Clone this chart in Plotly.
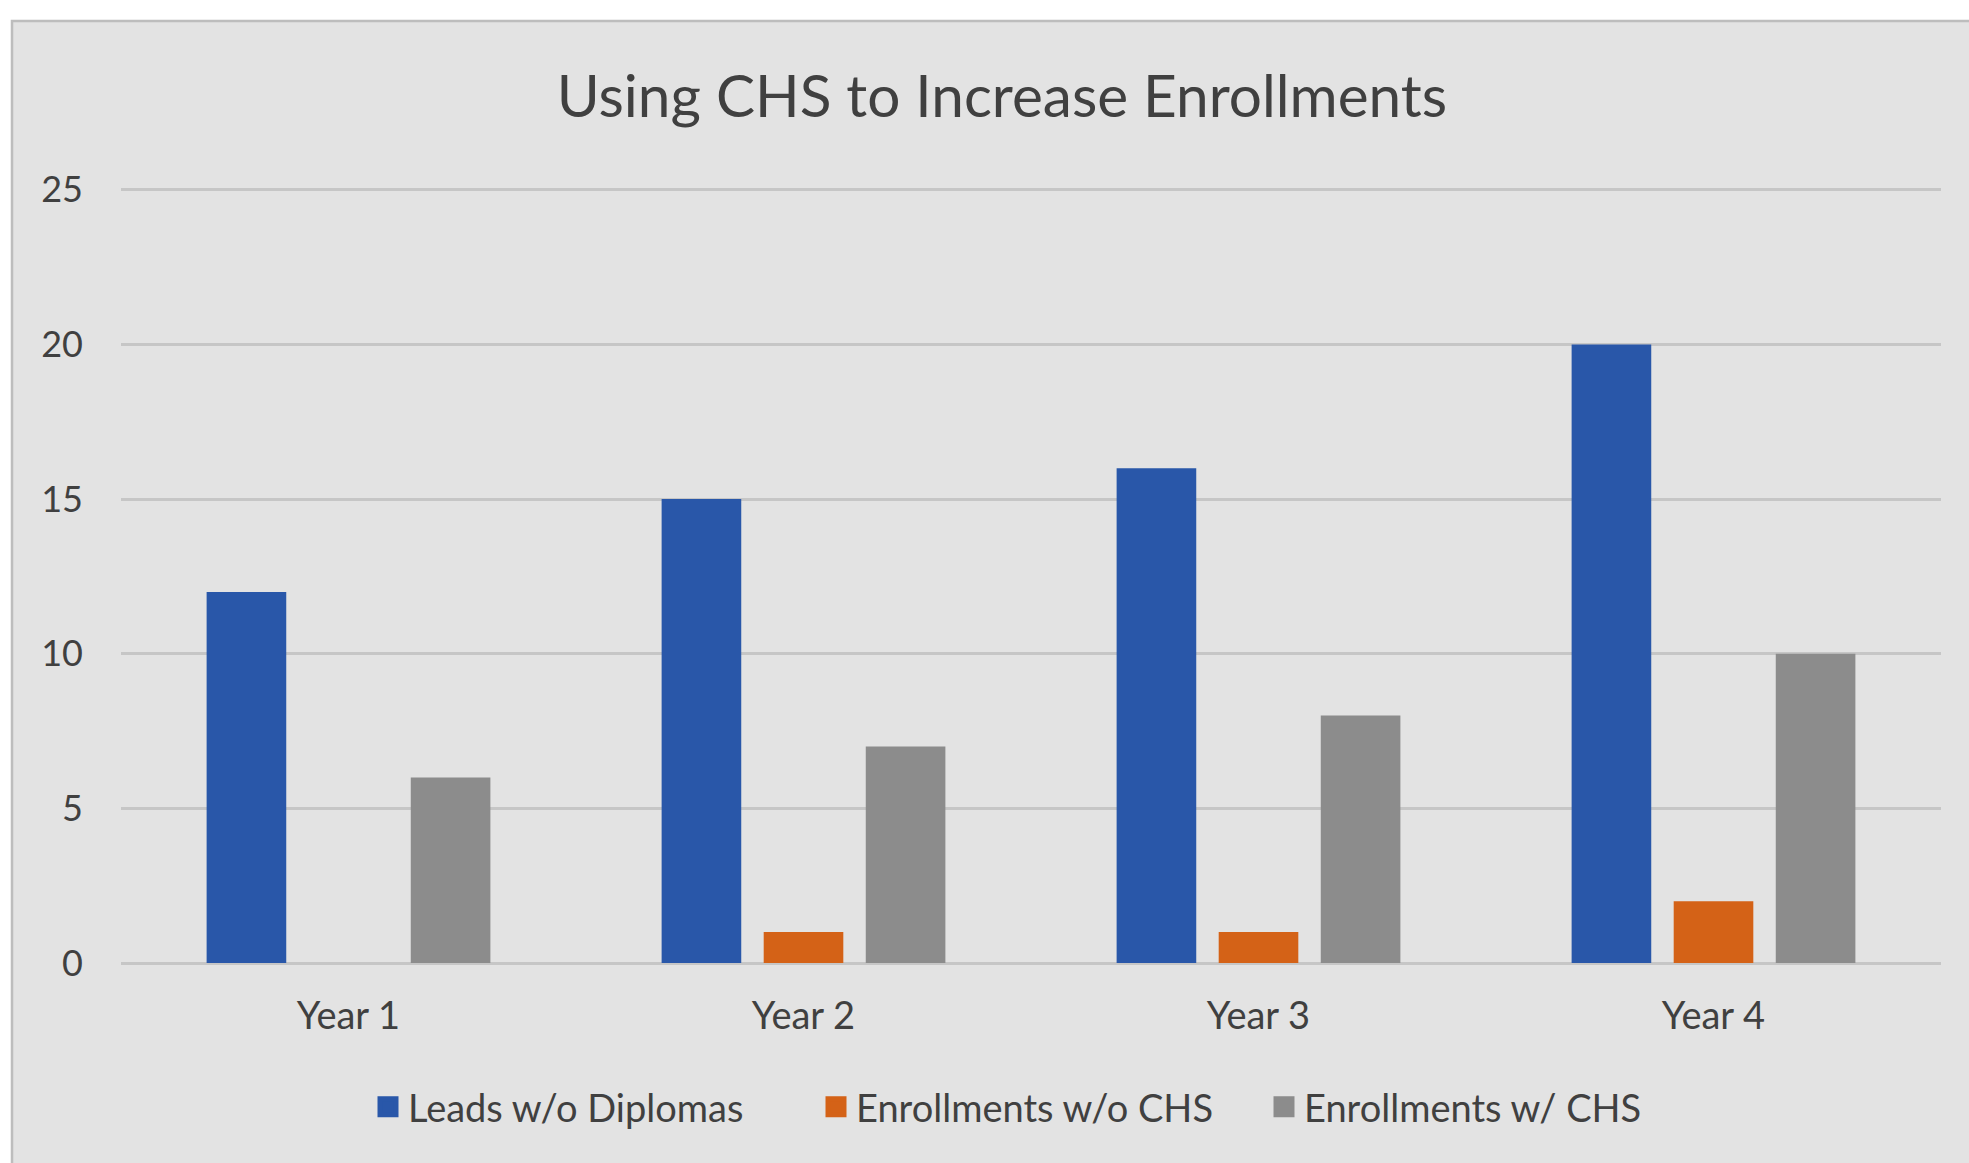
import plotly.graph_objects as go

categories = ["Year 1", "Year 2", "Year 3", "Year 4"]
series_names = ["Leads w/o Diplomas", "Enrollments w/o CHS", "Enrollments w/ CHS"]
leads_wo_diplomas = [12, 15, 16, 20]
enrollments_wo_chs = [0, 1, 1, 2]
enrollments_w_chs = [6, 7, 8, 10]
y_ticks = [0, 5, 10, 15, 20, 25]
colors = ["#2957A9", "#D46217", "#8C8C8C"]

W, H = 1969, 1163
ML, MR, MT, MB = 121, 28, 188, 200
PW, PH = W - ML - MR, H - MT - MB
YMAX = 25.06

FONT = "Lato"
TXT = "#404040"

fig = go.Figure()
for name, vals, col in zip(series_names, [leads_wo_diplomas, enrollments_wo_chs, enrollments_w_chs], colors):
    fig.add_trace(go.Bar(x=categories, y=vals, name=name, marker=dict(color=col, line=dict(width=0)),
                         showlegend=False))
for name, col in zip(series_names, colors):
    fig.add_trace(go.Scatter(x=[None], y=[None], mode="markers", name=name,
                             marker=dict(symbol="square", size=16, color=col, line=dict(color=col, width=5)),
                             showlegend=True))

def px_to_paper_x(px):
    return (px - ML) / PW

def px_to_paper_y(py):
    return (H - MB - py) / PH

# chart area background with border
fig.add_shape(type="rect", xref="paper", yref="paper", layer="below",
              x0=px_to_paper_x(12), x1=px_to_paper_x(W + 20),
              y0=px_to_paper_y(H + 20), y1=px_to_paper_y(21),
              fillcolor="#E3E3E3", line=dict(color="#BDBDBD", width=2.5))

fig.update_layout(
    width=W, height=H,
    margin=dict(l=ML, r=MR, t=MT, b=MB, autoexpand=False),
    paper_bgcolor="white",
    plot_bgcolor="rgba(0,0,0,0)",
    barmode="group",
    bargap=0.327,
    bargroupgap=0.22,
    title=dict(text="Using CHS to Increase Enrollments", x=1002 / W, xanchor="center",
               y=1 - 97 / H, yanchor="middle", xref="container", yref="container",
               font=dict(family=FONT, size=58.5, color=TXT)),
    font=dict(family=FONT, color=TXT),
    xaxis=dict(showgrid=False, showline=False, zeroline=False, ticks="",
               tickfont=dict(family=FONT, size=38, color=TXT), ticklabelstandoff=27),
    yaxis=dict(range=[0, YMAX], tickvals=y_ticks, showgrid=True, gridcolor="#C6C6C6", gridwidth=2.5,
               zeroline=True, zerolinecolor="#C6C6C6", zerolinewidth=2.5, showline=False, ticks="",
               tickfont=dict(family=FONT, size=36, color=TXT), ticklabelstandoff=37),
    legend=dict(orientation="h", xref="container", yref="container", x=1040 / W, xanchor="center",
                y=1 - 1107 / H, yanchor="middle", font=dict(family=FONT, size=38, color=TXT),
                bgcolor="rgba(0,0,0,0)", entrywidth=403, entrywidthmode="pixels"),
)

fig.write_html("out.html")
